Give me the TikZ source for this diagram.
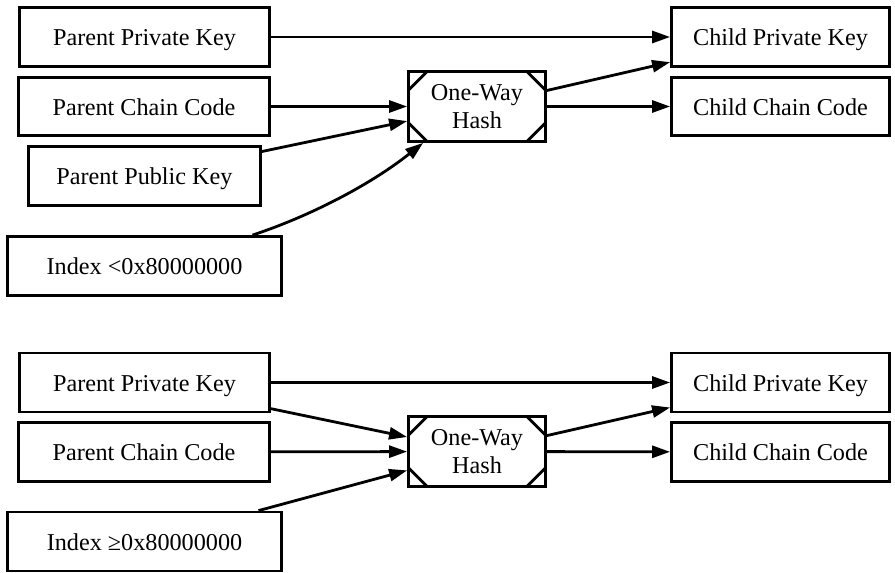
\documentclass[tikz,border=0pt]{standalone}
\usepackage{fontspec}
\setmainfont{Liberation Serif}
\usetikzlibrary{arrows.meta,calc}
\begin{document}
\begin{tikzpicture}[x=1pt,y=-1pt,
  box/.style={draw, line width=2.8pt, inner sep=0pt, align=center,
    font=\fontsize{24.2}{28}\selectfont, minimum height=59pt},
  single/.style={box, text height=17pt, text depth=0pt},
  hashbox/.style={box, minimum width=137pt, minimum height=70pt},
  corner/.style={line width=2.8pt},
  arr/.style={line width=2.8pt, -{Triangle[length=18pt,width=12pt]}}]
\useasboundingbox (0,0) rectangle (895,573);

% top diagram
\node[single, minimum width=250pt] (ppk1) at (144.5,37) {Parent Private Key};
\node[single, minimum width=251pt, minimum height=58pt] (pcc1) at (144,106.5) {Parent Chain Code};
\node[single, minimum width=232pt] (ppub1) at (144.5,176) {Parent Public Key};
\node[single, minimum width=274pt] (idx1) at (144.5,266) {Index <0x80000000};
\node[hashbox] (hash1) at (477,106.5) {One-Way\\Hash};
\node[single, minimum width=218pt] (cpk1) at (780.5,37) {Child Private Key};
\node[single, minimum width=218pt, minimum height=58pt] (ccc1) at (780.5,106.5) {Child Chain Code};

% bottom diagram
\node[single, minimum width=250pt] (ppk2) at (144.5,382.5) {Parent Private Key};
\node[single, minimum width=251pt] (pcc2) at (144,452) {Parent Chain Code};
\node[single, minimum width=274pt] (idx2) at (144.5,541.5) {Index ≥0x80000000};
\node[hashbox] (hash2) at (477,451.5) {One-Way\\Hash};
\node[single, minimum width=218pt] (cpk2) at (780.5,382.5) {Child Private Key};
\node[single, minimum width=218pt] (ccc2) at (780.5,452) {Child Chain Code};

% corner marks of the hash boxes
\foreach \h in {hash1,hash2}{
  \draw[corner] ($(\h.north west)+(1.4,20)$) -- ($(\h.north west)+(20,1.4)$);
  \draw[corner] ($(\h.north east)+(-1.4,20)$) -- ($(\h.north east)+(-20,1.4)$);
  \draw[corner] ($(\h.south west)+(1.4,-20)$) -- ($(\h.south west)+(20,-1.4)$);
  \draw[corner] ($(\h.south east)+(-1.4,-20)$) -- ($(\h.south east)+(-20,-1.4)$);
}

% top connectors
\draw[arr] (ppk1) -- (cpk1);
\draw[arr] (pcc1) -- (hash1);
\draw[arr] (ppub1) -- (hash1);
\draw[arr] ($(idx1.north)+(108,0)$) .. controls ($(idx1.north)+(165.5,-19)$) and ($(hash1.south west)+(-37,42)$) .. ($(hash1.south west)+(16,0)$);
\draw[arr] (hash1) -- (cpk1);
\draw[arr] (hash1) -- (ccc1);

% bottom connectors
\draw[arr] (ppk2) -- (cpk2);
\draw[arr] (ppk2) -- (hash2);
\draw[arr] (pcc2) -- (hash2);
\draw[arr] (idx2) -- (hash2);
\draw[arr] (hash2) -- (cpk2);
\draw[arr] (hash2) -- (ccc2);
\end{tikzpicture}
\end{document}
